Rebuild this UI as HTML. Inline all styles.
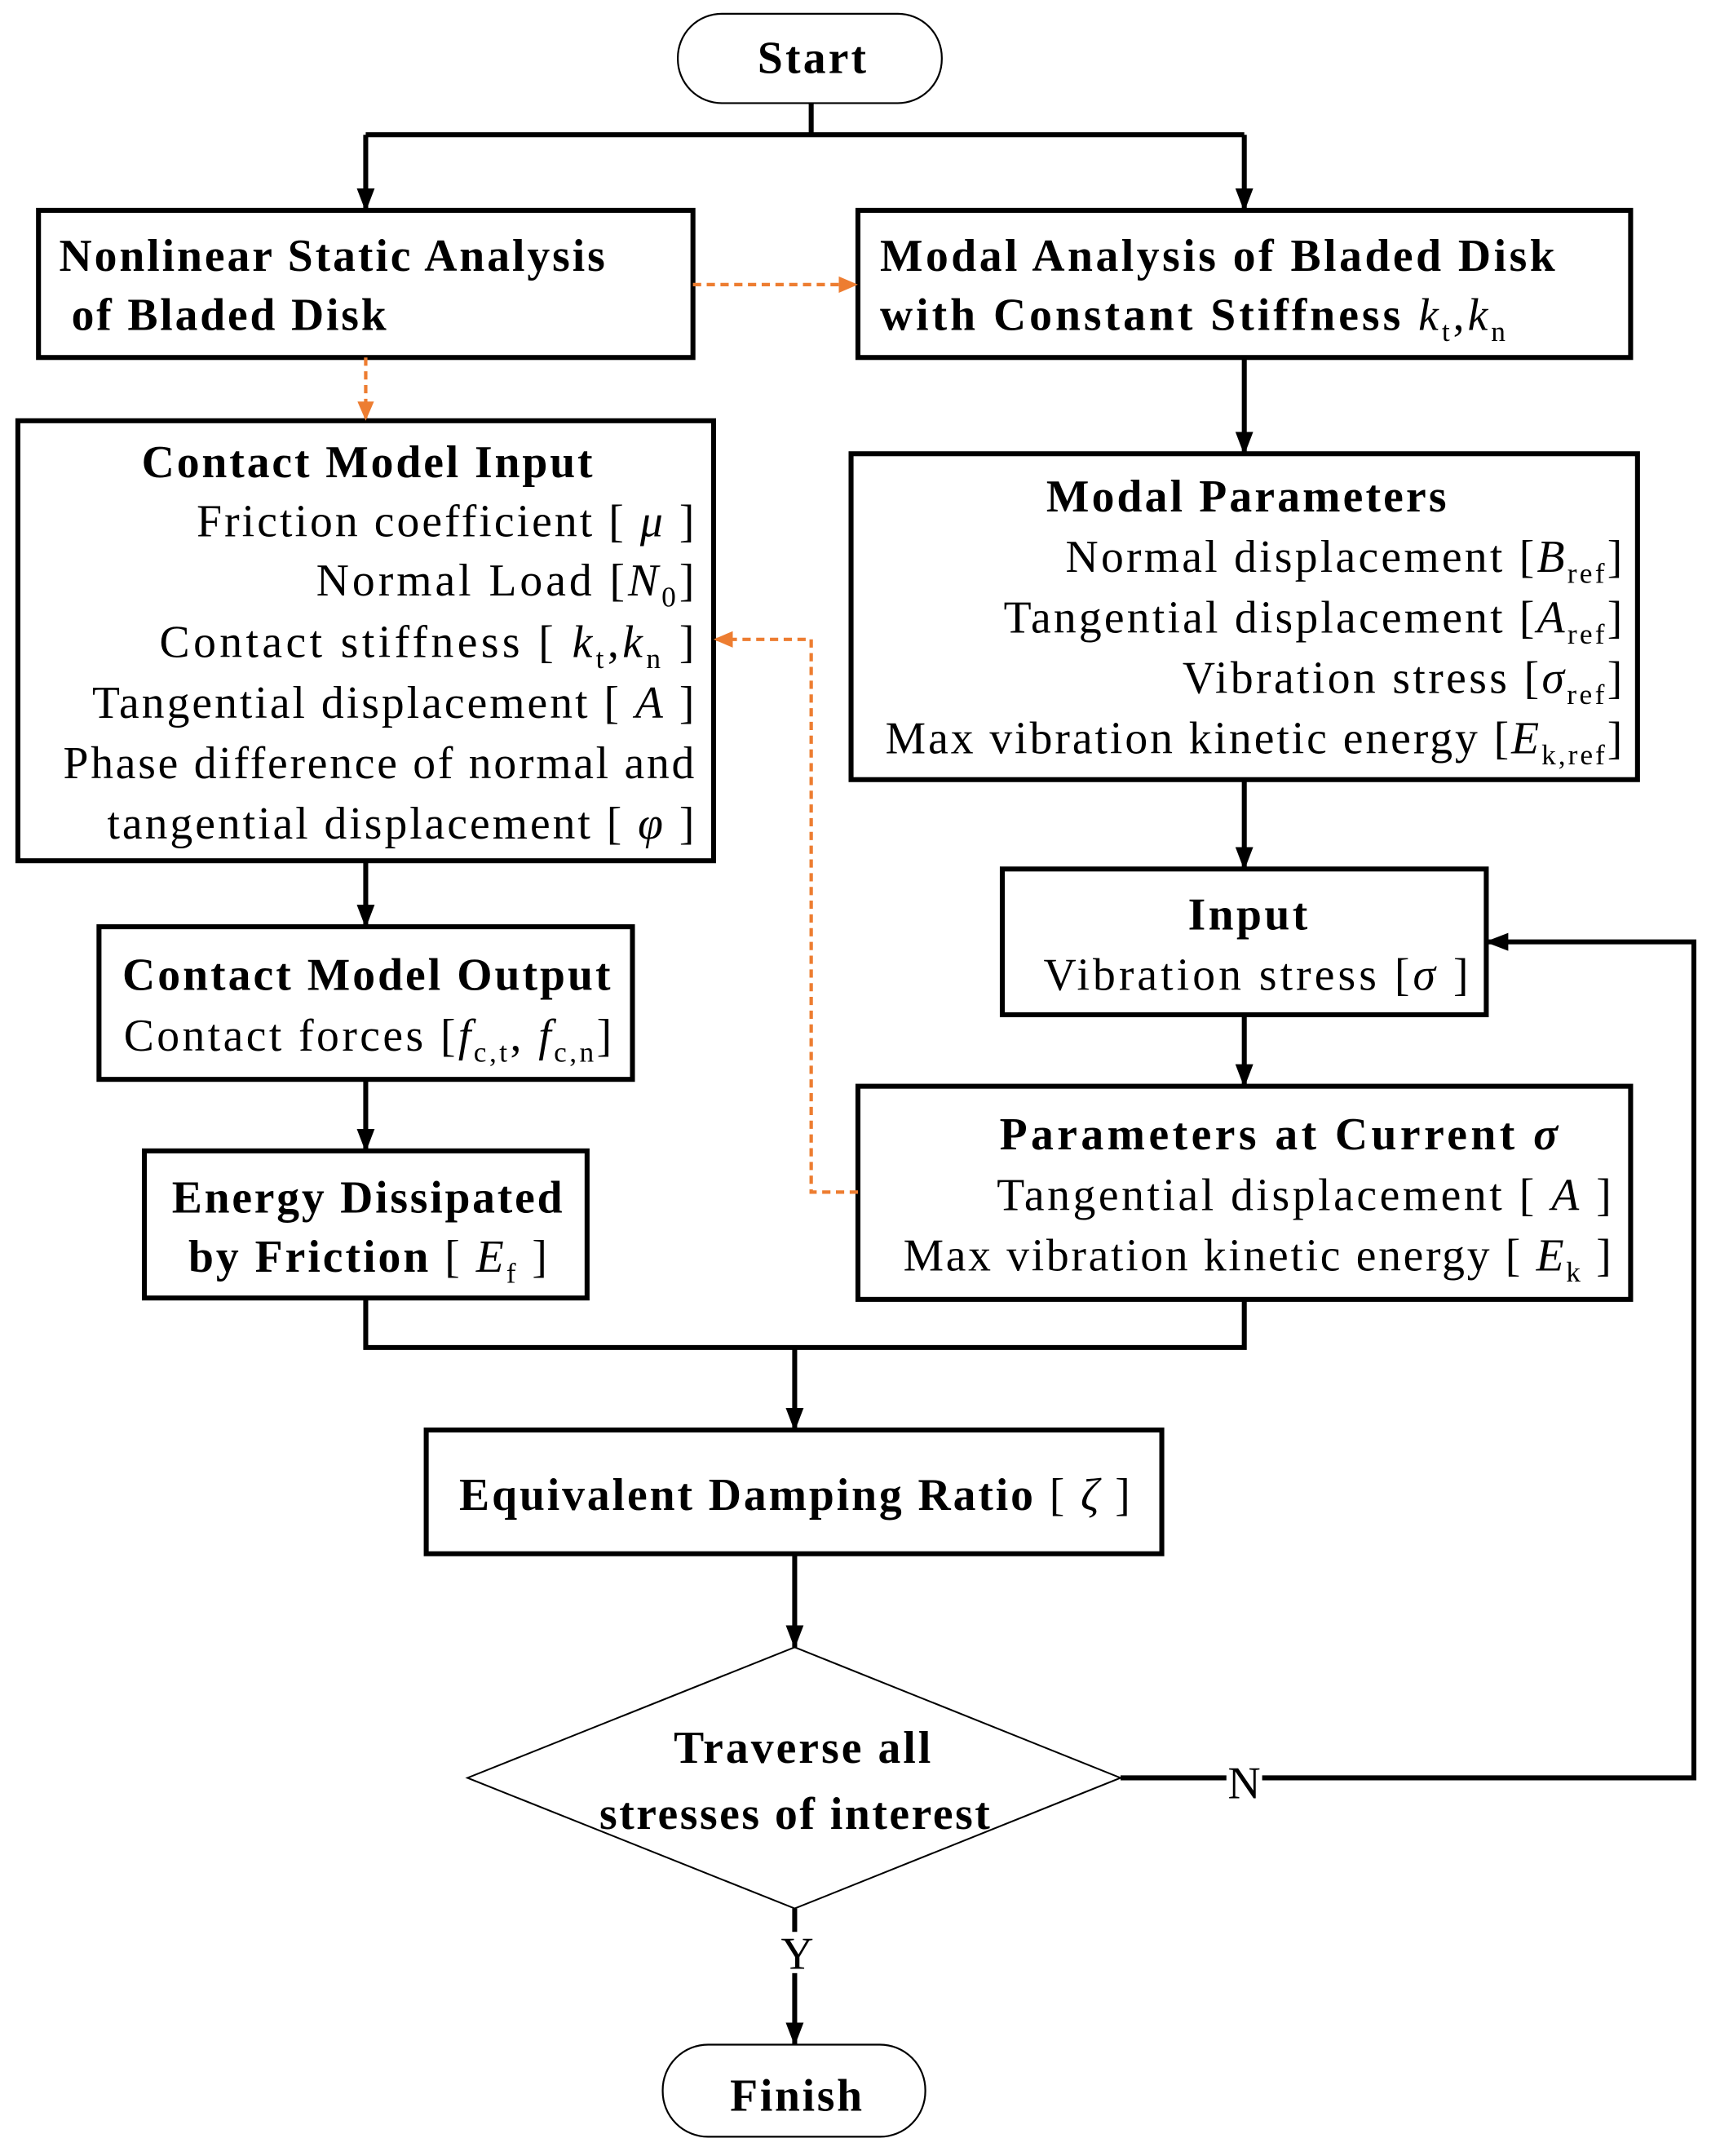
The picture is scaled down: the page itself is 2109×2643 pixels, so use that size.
<!DOCTYPE html>
<html><head><meta charset="utf-8"><style>
html,body{margin:0;padding:0;background:#fff}
svg{display:block}
text{font-family:"Liberation Serif",serif;font-size:33px;fill:#000}
.b{font-weight:bold}
.i{font-style:italic}
.s{font-size:21px}
</style></head><body>
<svg width="2109" height="2643" viewBox="0 0 1251 1568" preserveAspectRatio="none" xmlns="http://www.w3.org/2000/svg">
<defs>
<marker id="a" markerWidth="20" markerHeight="20" refX="16" refY="8" orient="auto" markerUnits="userSpaceOnUse"><path d="M0,1.5 L17,8 L0,14.5 Z" fill="#000"/></marker>
<marker id="o" markerWidth="14" markerHeight="14" refX="12" refY="7" orient="auto" markerUnits="userSpaceOnUse"><path d="M0,1 L14,7 L0,13 Z" fill="#ED7D31"/></marker>
</defs>
<g fill="none" stroke="#000" stroke-width="3.6">
<rect x="28" y="153" width="476" height="107"/>
<rect x="624" y="153" width="562" height="107"/>
<rect x="13" y="306" width="506" height="320"/>
<rect x="619" y="330" width="572" height="237"/>
<rect x="729" y="632" width="352" height="106"/>
<rect x="624" y="790" width="562" height="155"/>
<rect x="72" y="674" width="388" height="111"/>
<rect x="105" y="837" width="322" height="107"/>
<rect x="310" y="1040" width="535" height="90"/>
<path d="M590,75 V98 M266,98 H905"/>
<path d="M266,98 V153" marker-end="url(#a)"/>
<path d="M905,98 V153" marker-end="url(#a)"/>
<path d="M905,260 V330" marker-end="url(#a)"/>
<path d="M905,567 V632" marker-end="url(#a)"/>
<path d="M905,738 V790" marker-end="url(#a)"/>
<path d="M266,626 V674" marker-end="url(#a)"/>
<path d="M266,785 V837" marker-end="url(#a)"/>
<path d="M266,944 V980 H905 V945"/>
<path d="M578,980 V1040" marker-end="url(#a)"/>
<path d="M578,1130 V1198" marker-end="url(#a)"/>
<path d="M815,1293 H1232 V685 H1081" marker-end="url(#a)"/>
<path d="M578,1388 V1487" marker-end="url(#a)"/>
</g>
<rect x="493" y="10" width="192" height="65" rx="32" fill="none" stroke="#000" stroke-width="1.3"/>
<rect x="482" y="1487" width="191" height="67" rx="33" fill="#fff" stroke="#000" stroke-width="1.3"/>
<polygon points="578,1198 815,1293 578,1388 340,1293" fill="none" stroke="#000" stroke-width="1.2"/>
<g fill="none" stroke="#ED7D31" stroke-width="2.5" stroke-dasharray="6,4">
<path d="M504,207 H622" marker-end="url(#o)"/>
<path d="M266,260 V304" marker-end="url(#o)"/>
<path d="M624,867 H590 V465 H521" marker-end="url(#o)"/>
</g>
<rect x="892" y="1280" width="26" height="30" fill="#fff"/>
<rect x="566" y="1405" width="26" height="30" fill="#fff"/>
<text x="551" y="53" textLength="79" class="b">Start</text>
<text x="43" y="197" textLength="397" class="b">Nonlinear Static Analysis</text>
<text x="52" y="240" textLength="229" class="b">of Bladed Disk</text>
<text x="640" y="197" textLength="491" class="b">Modal Analysis  of Bladed Disk</text>
<text x="640" y="240" textLength="455"><tspan class="b">with Constant Stiffness  </tspan><tspan class="i">k</tspan><tspan class="s" dy="8">t</tspan><tspan dy="-8">,</tspan><tspan class="i">k</tspan><tspan class="s" dy="8">n</tspan></text>
<text x="103" y="347" textLength="328" class="b">Contact Model Input</text>
<text x="143" y="390" textLength="362">Friction coefficient [ <tspan class="i">μ</tspan> ]</text>
<text x="230" y="433" textLength="275">Normal Load [<tspan class="i">N</tspan><tspan class="s" dy="8">0</tspan><tspan dy="-8">]</tspan></text>
<text x="116" y="478" textLength="389">Contact stiffness [  <tspan class="i">k</tspan><tspan class="s" dy="8">t</tspan><tspan dy="-8">,</tspan><tspan class="i">k</tspan><tspan class="s" dy="8">n</tspan><tspan dy="-8">  ]</tspan></text>
<text x="67" y="522" textLength="438">Tangential displacement [ <tspan class="i">A</tspan> ]</text>
<text x="46" y="566" textLength="459">Phase difference of normal and</text>
<text x="78" y="610" textLength="427">tangential displacement [ <tspan class="i">φ</tspan> ]</text>
<text x="761" y="372" textLength="291" class="b">Modal Parameters</text>
<text x="775" y="416" textLength="405">Normal displacement [<tspan class="i">B</tspan><tspan class="s" dy="8">ref</tspan><tspan dy="-8">]</tspan></text>
<text x="730" y="460" textLength="450">Tangential displacement [<tspan class="i">A</tspan><tspan class="s" dy="8">ref</tspan><tspan dy="-8">]</tspan></text>
<text x="860" y="504" textLength="320">Vibration stress [<tspan class="i">σ</tspan><tspan class="s" dy="8">ref</tspan><tspan dy="-8">]</tspan></text>
<text x="644" y="548" textLength="536">Max vibration kinetic energy [<tspan class="i">E</tspan><tspan class="s" dy="8">k,ref</tspan><tspan dy="-8">]</tspan></text>
<text x="864" y="676" textLength="87" class="b">Input</text>
<text x="759" y="720" textLength="309">Vibration stress [<tspan class="i">σ</tspan> ]</text>
<text x="727" y="836" textLength="406" class="b">Parameters at Current  <tspan class="i">σ</tspan></text>
<text x="725" y="880" textLength="447">Tangential displacement [ <tspan class="i">A</tspan>  ]</text>
<text x="657" y="924" textLength="515">Max vibration kinetic energy [ <tspan class="i">E</tspan><tspan class="s" dy="8">k</tspan><tspan dy="-8"> ]</tspan></text>
<text x="89" y="720" textLength="355" class="b">Contact Model Output</text>
<text x="90" y="764" textLength="355">Contact forces [<tspan class="i">f</tspan><tspan class="s" dy="8">c,t</tspan><tspan dy="-8">, </tspan><tspan class="i">f</tspan><tspan class="s" dy="8">c,n</tspan><tspan dy="-8">]</tspan></text>
<text x="125" y="882" textLength="284" class="b">Energy Dissipated</text>
<text x="137" y="925" textLength="261"><tspan class="b">by Friction</tspan> [ <tspan class="i">E</tspan><tspan class="s" dy="8">f</tspan><tspan dy="-8"> ]</tspan></text>
<text x="334" y="1098" textLength="488"><tspan class="b">Equivalent Damping Ratio</tspan> [ <tspan class="i">ζ</tspan> ]</text>
<text x="490" y="1282" textLength="187" class="b">Traverse all</text>
<text x="436" y="1330" textLength="284" class="b">stresses of interest</text>
<text x="893" y="1308" textLength="24">N</text>
<text x="568" y="1432" textLength="24">Y</text>
<text x="531" y="1535" textLength="96" class="b">Finish</text>
</svg>
</body></html>
